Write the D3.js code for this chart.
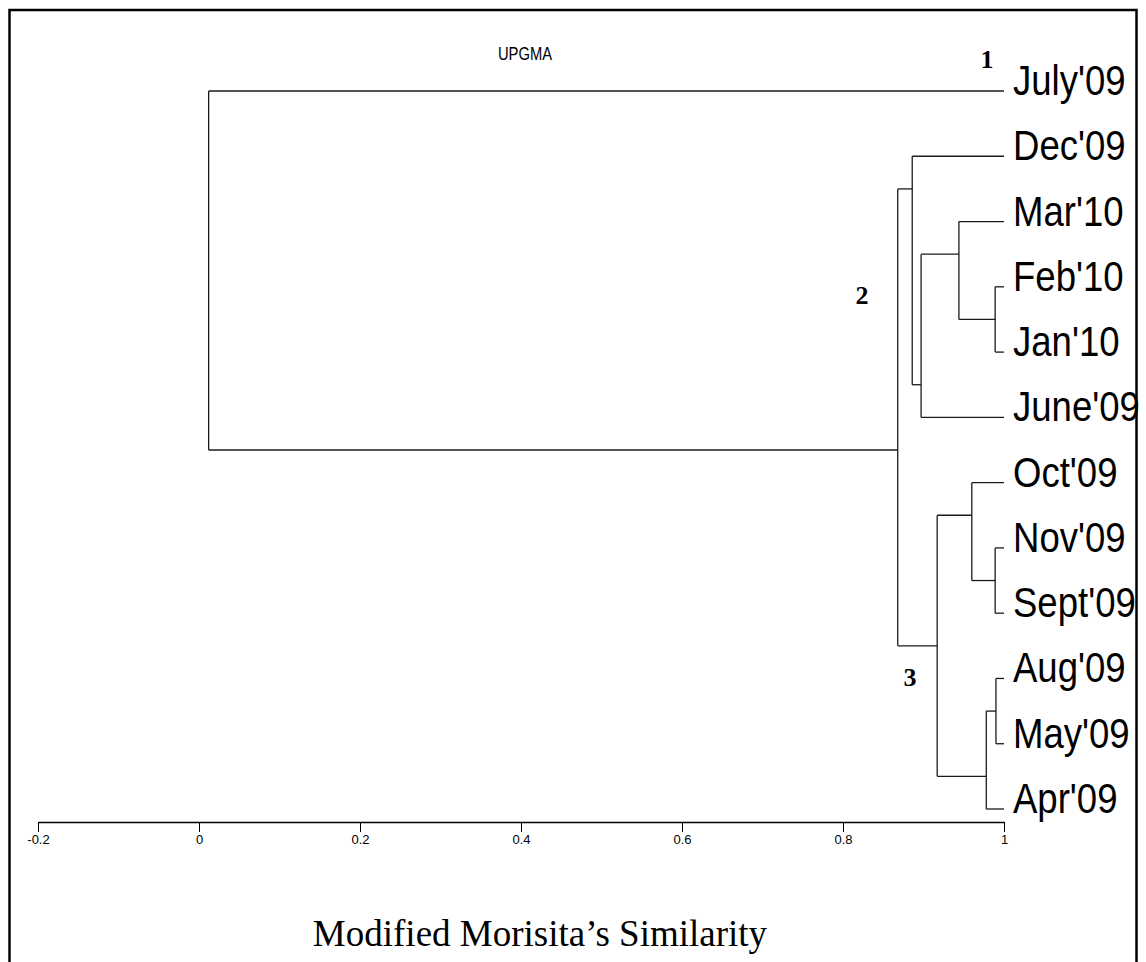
<!DOCTYPE html>
<html>
<head>
<meta charset="utf-8">
<script src="https://cdn.jsdelivr.net/npm/d3@7"></script>
<style>
  html, body { margin: 0; padding: 0; background: #fff; }
  svg { display: block; }
</style>
</head>
<body>
<svg id="chart" width="1146" height="962"></svg>
<script>
// ---- data ----
const leaves = ["July'09", "Dec'09", "Mar'10", "Feb'10", "Jan'10", "June'09",
                "Oct'09", "Nov'09", "Sept'09", "Aug'09", "May'09", "Apr'09"];
// merges: id, left child, right child, similarity level
const mergeIds   = ["m1", "m2", "m3", "m4", "m5", "m6", "m7", "m8", "m9", "m10", "m11"];
const mergeLeft  = ["Feb'10", "Nov'09", "Aug'09", "Mar'10", "m3", "Oct'09", "m4", "Dec'09", "m6", "m8", "July'09"];
const mergeRight = ["Jan'10", "Sept'09", "May'09", "m1", "Apr'09", "m2", "June'09", "m7", "m5", "m9", "m10"];
const mergeSim   = [0.989, 0.989, 0.990, 0.944, 0.978, 0.960, 0.897, 0.886, 0.917, 0.868, 0.012];
const leafSim = 1.0;
const tickValues = [-0.2, 0, 0.2, 0.4, 0.6, 0.8, 1];
const tickLabels = ["-0.2", "0", "0.2", "0.4", "0.6", "0.8", "1"];
const clusterNames = ["1", "2", "3"];

// ---- drawing ----
const svg = d3.select("#chart");
const x = d3.scaleLinear().domain([-0.2, 1]).range([38, 1004]);
const y = d3.scalePoint().domain(leaves).range([91, 809]);

// frame
svg.append("rect").attr("x", 9.5).attr("y", 10).attr("width", 1127).attr("height", 990)
  .attr("fill", "none").attr("stroke", "#000").attr("stroke-width", 2.5);

// build node info
const nodes = {};
leaves.forEach((l, i) => { nodes[l] = { y: y(l), sim: leafSim, first: i, last: i, leaf: true }; });
mergeIds.forEach((id, i) => {
  const a = nodes[mergeLeft[i]], b = nodes[mergeRight[i]];
  // attachment point: midway between the adjacent leaves of the two children
  const yy = (y(leaves[a.last]) + y(leaves[b.first])) / 2;
  nodes[id] = { y: yy, sim: mergeSim[i], first: a.first, last: b.last, a, b };
});

const g = svg.append("g").attr("fill", "none").attr("stroke", "#1a1a1a").attr("stroke-width", 1.3);
mergeIds.forEach((id, i) => {
  const n = nodes[id];
  const xn = x(n.sim);
  g.append("line").attr("x1", xn).attr("x2", xn).attr("y1", n.a.y).attr("y2", n.b.y);
  [n.a, n.b].forEach(c => {
    g.append("line").attr("x1", xn).attr("x2", x(c.sim)).attr("y1", c.y).attr("y2", c.y);
  });
});

// leaf labels
const labelFont = "'Liberation Sans', Arial, sans-serif";
leaves.forEach(l => {
  svg.append("text")
    .attr("transform", `translate(${x(leafSim) + 9},${y(l) + 4}) scale(0.87,1)`)
    .attr("font-family", labelFont).attr("font-size", 42).attr("fill", "#000")
    .text(l);
});

// title
svg.append("text")
  .attr("transform", `translate(525,60) scale(0.82,1)`)
  .attr("text-anchor", "middle")
  .attr("font-family", labelFont).attr("font-size", 18).attr("fill", "#000")
  .text("UPGMA");

// cluster numbers
const clusterPos = [[987, 68], [862, 304], [910, 686]];
clusterNames.forEach((c, i) => {
  svg.append("text")
    .attr("x", clusterPos[i][0]).attr("y", clusterPos[i][1])
    .attr("text-anchor", "middle")
    .attr("font-family", "'Liberation Serif', 'Times New Roman', serif")
    .attr("font-weight", "bold").attr("font-size", 26).attr("fill", "#000")
    .text(c);
});

// axis
const axis = d3.axisBottom(x).tickValues(tickValues)
  .tickFormat((d, i) => tickLabels[i]).tickSize(10).tickSizeOuter(0).tickPadding(3);
const ag = svg.append("g").attr("transform", "translate(0,822)").call(axis);
ag.select(".domain").attr("stroke", "#000").attr("stroke-width", 1.6);
ag.selectAll(".tick line").attr("stroke", "#000").attr("stroke-width", 1);
ag.selectAll(".tick text")
  .attr("font-family", labelFont).attr("font-size", 13).attr("fill", "#000");

// axis title
svg.append("text")
  .attr("x", 540).attr("y", 946)
  .attr("text-anchor", "middle")
  .attr("font-family", "'Liberation Serif', 'Times New Roman', serif")
  .attr("font-size", 37).attr("fill", "#000")
  .text("Modified Morisita\u2019s Similarity");
</script>
</body>
</html>
